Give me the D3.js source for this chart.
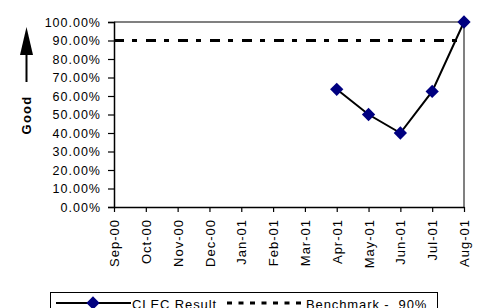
<!DOCTYPE html>
<html>
<head>
<meta charset="utf-8">
<script src="https://cdn.jsdelivr.net/npm/d3@7"></script>
<style>
  body { margin: 0; background: #fff; }
  text { font-family: "Liberation Sans", Arial, sans-serif; }
</style>
</head>
<body>
<div id="chart"></div>
<script>
const months = ['Sep-00', 'Oct-00', 'Nov-00', 'Dec-00', 'Jan-01', 'Feb-01', 'Mar-01',
    'Apr-01', 'May-01', 'Jun-01', 'Jul-01', 'Aug-01'];
// null = no result that month
const clecResult = [null, null, null, null, null, null, null, 0.636, 0.50, 0.40, 0.625, 1.00];
const benchmark = 0.90;
const yTicks = [0, 0.1, 0.2, 0.3, 0.4, 0.5, 0.6, 0.7, 0.8, 0.9, 1.0];

const width = 478;
const height = 308;
const plotLeft = 114, plotRight = 464, plotTop = 22, plotBottom = 207;
const fontFam = '"Liberation Sans", Arial, sans-serif';

const svg = d3.select('#chart')
    .append('svg')
    .attr('width', width)
    .attr('height', height);

const x = d3.scalePoint()
    .domain(months)
    .range([plotLeft, plotRight]);

const y = d3.scaleLinear()
    .domain([0, 1])
    .range([plotBottom, plotTop]);

// plot frame (top + right in grey)
svg.append('path')
    .attr('d', `M${plotLeft},${plotTop}H${plotRight}V${plotBottom}`)
    .attr('fill', 'none')
    .attr('stroke', '#808080')
    .attr('stroke-width', 2);

// y axis
const yAxis = svg.append('g')
    .attr('transform', `translate(${plotLeft},0)`)
    .call(d3.axisLeft(y).tickValues(yTicks).tickFormat(d3.format('.2%')).tickSize(6).tickPadding(7));
yAxis.select('.domain').attr('stroke', '#000').attr('stroke-width', 1.5);
yAxis.selectAll('.tick line').attr('stroke-width', 1.2);
yAxis.selectAll('text')
    .attr('font-size', 12.5)
    .attr('fill', '#000')
    .style('font-family', fontFam)
    .style('letter-spacing', '1px');

// x axis
const xAxis = svg.append('g')
    .attr('transform', `translate(0,${plotBottom})`)
    .call(d3.axisBottom(x).tickSize(5).tickSizeOuter(0));
xAxis.select('.domain').attr('stroke', '#000').attr('stroke-width', 1.5);
xAxis.selectAll('.tick line').attr('stroke-width', 1.2);
xAxis.selectAll('text')
    .attr('font-size', 13)
    .attr('fill', '#000')
    .style('font-family', fontFam)
    .style('letter-spacing', '1px')
    .attr('transform', 'rotate(-90)')
    .attr('text-anchor', 'end')
    .attr('x', -12)
    .attr('y', 0)
    .attr('dy', '0.35em');

// benchmark
svg.append('line')
    .attr('x1', plotLeft)
    .attr('x2', plotRight)
    .attr('y1', y(benchmark))
    .attr('y2', y(benchmark))
    .attr('stroke', '#000')
    .attr('stroke-width', 3)
    .attr('stroke-dasharray', '10,8,5,9');

// CLEC result
const pts = months.map((m, i) => ({ m: m, v: clecResult[i] })).filter(d => d.v !== null);

svg.append('path')
    .datum(pts)
    .attr('fill', 'none')
    .attr('stroke', '#000')
    .attr('stroke-width', 2)
    .attr('d', d3.line().x(d => x(d.m)).y(d => y(d.v)));

const diamond = d3.symbol().type(d3.symbolSquare).size(88);

svg.selectAll('.marker')
    .data(pts)
    .enter()
    .append('path')
    .attr('class', 'marker')
    .attr('d', diamond)
    .attr('transform', d => `translate(${x(d.m)},${y(d.v)}) rotate(45)`)
    .attr('fill', '#000080');

// "Good" label + arrow
svg.append('text')
    .attr('transform', 'translate(31,115) rotate(-90)')
    .attr('text-anchor', 'middle')
    .attr('font-size', 13)
    .attr('font-weight', 'bold')
    .style('letter-spacing', '1.2px')
    .text('Good');

svg.append('line')
    .attr('x1', 26.5).attr('x2', 26.5)
    .attr('y1', 82).attr('y2', 50)
    .attr('stroke', '#000')
    .attr('stroke-width', 2);
svg.append('path')
    .attr('d', 'M26.5,27L33,55L20,55Z')
    .attr('fill', '#000');

// legend
const lg = svg.append('g');
lg.append('rect')
    .attr('x', 50.5).attr('y', 292.5)
    .attr('width', 387).attr('height', 30)
    .attr('fill', '#fff')
    .attr('stroke', '#000');
lg.append('line')
    .attr('x1', 56).attr('x2', 131).attr('y1', 303).attr('y2', 303)
    .attr('stroke', '#000').attr('stroke-width', 2);
lg.append('path')
    .attr('d', diamond)
    .attr('transform', 'translate(93,303) rotate(45)')
    .attr('fill', '#000080');
lg.append('text')
    .attr('x', 132).attr('y', 308.5)
    .attr('font-size', 13)
    .style('letter-spacing', '0.9px')
    .text('CLEC Result');
lg.append('line')
    .attr('x1', 227).attr('x2', 301).attr('y1', 303).attr('y2', 303)
    .attr('stroke', '#000').attr('stroke-width', 3)
    .attr('stroke-dasharray', '5,6.5');
lg.append('text')
    .attr('x', 306).attr('y', 308.5)
    .attr('font-size', 13)
    .style('letter-spacing', '0.9px')
    .style('white-space', 'pre')
    .text('Benchmark -  90%');
</script>
</body>
</html>
